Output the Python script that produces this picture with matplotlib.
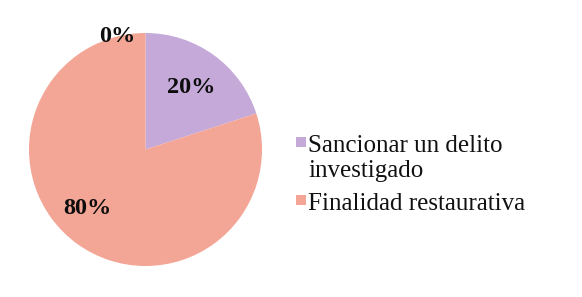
import matplotlib
matplotlib.use("Agg")
import matplotlib.pyplot as plt
from matplotlib.patches import Rectangle

categories = ["Sancionar un delito\ninvestigado", "Finalidad restaurativa", ""]
values = [20, 80, 0]
colors = ["#c5a9d9", "#f3a696", "#f3a696"]

# label placement (axes data units, pie radius = 1)
label_pos = [(0.39, 0.53), (-0.50, -0.51), (-0.24, 0.97)]

W, H = 582, 297
fig = plt.figure(figsize=(W / 100, H / 100), dpi=100)
fig.patch.set_facecolor("white")

cx, cy, r = 145.5, 149.5, 116.5
ax = fig.add_axes([(cx - r) / W, (H - cy - r) / H, 2 * r / W, 2 * r / H])
wedges, texts, autotexts = ax.pie(
    values, colors=colors, startangle=90, counterclock=False,
    autopct="%1.0f%%", radius=1.0,
    textprops=dict(family="Liberation Serif", fontweight="bold", fontsize=17.5, color="#0d0d0d"),
)
for t, p in zip(autotexts, label_pos):
    t.set_position(p)
    t.set_ha("center")
    t.set_va("center")
ax.set_xlim(-1, 1)
ax.set_ylim(-1, 1)
ax.set_aspect("auto")
ax.axis("off")

# legend (manual, first two categories)
leg_baselines = [152, 210]
for lab, col, yb in zip(categories[:2], colors[:2], leg_baselines):
    fig.add_artist(Rectangle((296 / W, (H - yb + 5) / H), 10 / W, 10 / H,
                             transform=fig.transFigure, facecolor=col, edgecolor="none"))
    lines = lab.split("\n")
    for i, ln in enumerate(lines):
        fig.text(308 / W, (H - yb - 25 * i) / H, ln, family="Liberation Serif",
                 fontsize=18, color="#111111", ha="left", va="baseline")

fig.savefig("out.png", dpi=100, facecolor="white")
